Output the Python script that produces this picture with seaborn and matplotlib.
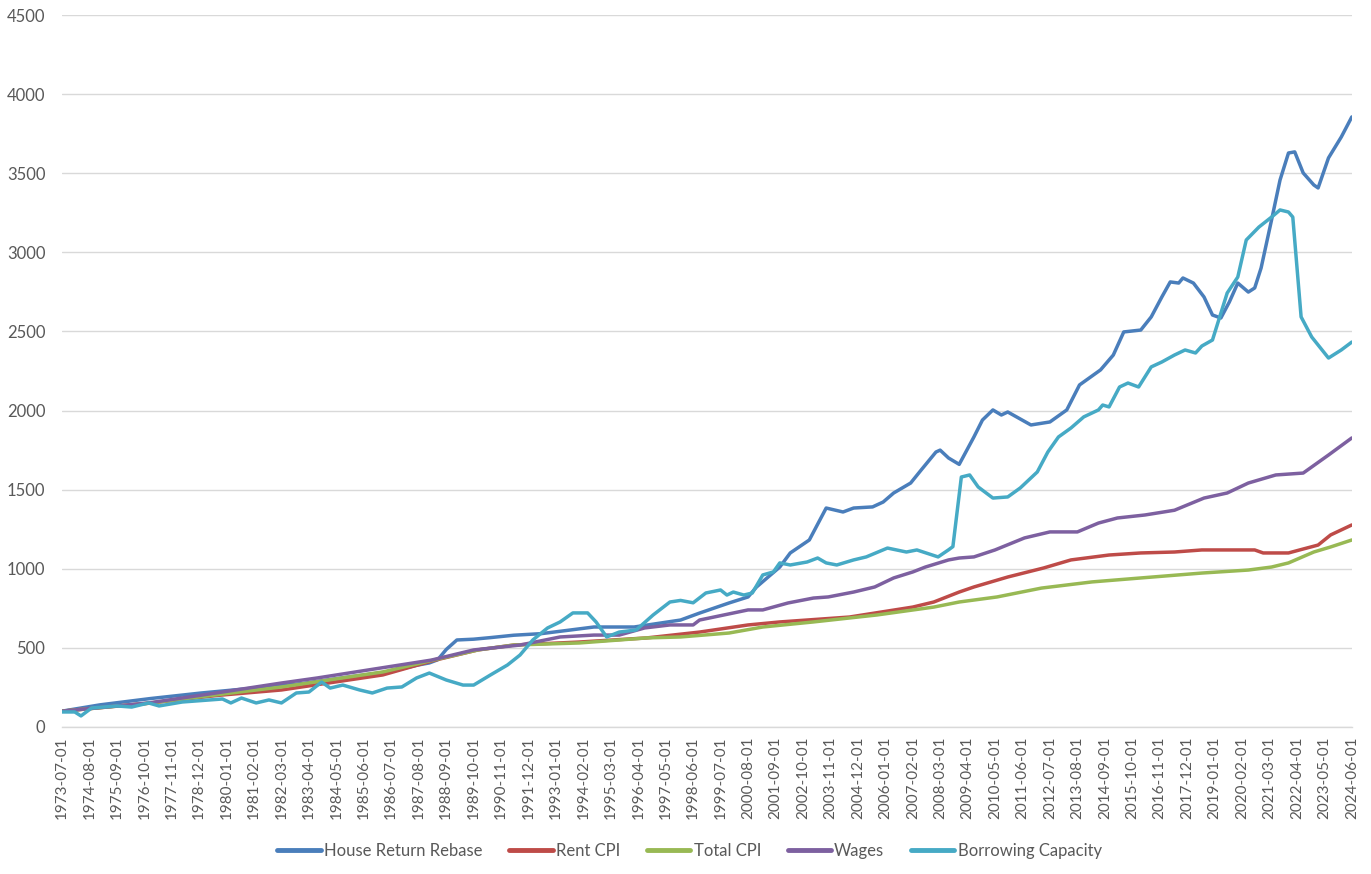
import pandas as pd
import numpy as np
import matplotlib
matplotlib.use("Agg")
import matplotlib.pyplot as plt
import seaborn as sns

# --------------------------------------------
# Data
# --------------------------------------------
house_dates = ["1973-07", "1975-01", "1977-01", "1979-01", "1981-01", "1983-01", "1985-01",
               "1986-06", "1987-07", "1988-01", "1988-05", "1988-09", "1989-02", "1989-10",
               "1990-06", "1991-05", "1992-06", "1993-06", "1994-07", "1996-02", "1997-12",
               "1998-09", "1999-11", "2000-08", "2000-12", "2001-11", "2002-04", "2003-01",
               "2003-09", "2004-05", "2004-10", "2005-07", "2005-12", "2006-05", "2007-01",
               "2007-06", "2008-01", "2008-03", "2008-07", "2008-12", "2009-07", "2009-11",
               "2010-04", "2010-08", "2010-11", "2011-10", "2012-07", "2013-03", "2013-09",
               "2014-07", "2015-01", "2015-06", "2016-02", "2016-07", "2016-12", "2017-04",
               "2017-08", "2017-10", "2018-03", "2018-08", "2018-12", "2019-04", "2019-08",
               "2019-12", "2020-05", "2020-08", "2020-11", "2021-04", "2021-08", "2021-12",
               "2022-03", "2022-07", "2022-12", "2023-02", "2023-07", "2024-01", "2024-06"]
house_values = [100, 140, 180, 215, 245, 275, 320,
                350, 390, 405, 425, 490, 550, 555,
                565, 580, 590, 610, 632, 632, 676,
                720, 784, 822, 885, 1011, 1100, 1182,
                1384, 1359, 1384, 1391, 1422, 1479, 1542,
                1624, 1738, 1750, 1700, 1660, 1833, 1940,
                2004, 1972, 1991, 1909, 1928, 2004, 2162,
                2257, 2351, 2497, 2509, 2592, 2718, 2813,
                2806, 2838, 2806, 2718, 2604, 2585, 2686,
                2806, 2749, 2775, 2901, 3205, 3457, 3628,
                3635, 3502, 3426, 3407, 3597, 3729, 3856]

rent_dates = ["1973-07", "1976-12", "1979-09", "1982-03", "1986-03", "1988-03", "1989-12",
              "1991-05", "1993-12", "1996-08", "1998-09", "2000-08", "2001-11", "2004-08",
              "2007-02", "2007-12", "2008-12", "2009-07", "2010-11", "2012-04", "2013-05",
              "2014-11", "2016-02", "2017-06", "2018-07", "2020-08", "2020-12", "2021-12",
              "2022-07", "2023-02", "2023-08", "2024-06"]
rent_values = [100, 150, 200, 234, 329, 420, 487,
               518, 537, 563, 600, 645, 664, 695,
               758, 790, 853, 885, 948, 1005, 1056,
               1087, 1100, 1106, 1119, 1119, 1100, 1100,
               1125, 1150, 1214, 1277]

cpi_dates = ["1973-07", "1976-12", "1979-09", "1982-03", "1986-03", "1988-03", "1989-12",
             "1991-05", "1993-12", "1996-08", "1997-12", "1999-11", "2001-03", "2003-03",
             "2005-09", "2007-12", "2008-12", "2010-06", "2012-03", "2014-03", "2016-02",
             "2018-07", "2020-05", "2021-04", "2021-12", "2022-12", "2023-08", "2024-06"]
cpi_values = [100, 150, 205, 253, 348, 423, 487,
              518, 531, 563, 569, 594, 632, 664,
              708, 758, 790, 822, 878, 917, 942,
              973, 992, 1011, 1037, 1106, 1138, 1182]

wages_dates = ["1973-07", "1976-12", "1979-08", "1982-03", "1983-08", "1986-02", "1988-02",
               "1989-10", "1991-08", "1993-03", "1994-07", "1995-07", "1996-07", "1997-07",
               "1998-06", "1998-09", "2000-08", "2001-03", "2002-03", "2003-03", "2003-10",
               "2004-10", "2005-08", "2006-05", "2007-02", "2007-08", "2008-07", "2008-12",
               "2009-07", "2010-05", "2011-07", "2012-07", "2013-08", "2014-06", "2015-03",
               "2016-04", "2017-06", "2018-08", "2019-07", "2020-05", "2021-06", "2022-07",
               "2023-07", "2024-06"]
wages_values = [100, 152, 215, 278, 310, 373, 423,
                487, 518, 569, 581, 581, 626, 645,
                645, 676, 740, 740, 784, 815, 822,
                853, 885, 942, 980, 1011, 1056, 1068,
                1075, 1119, 1195, 1233, 1233, 1289, 1321,
                1340, 1370, 1447, 1479, 1542, 1593, 1605,
                1719, 1827]

borrow_dates = ["1973-07", "1974-01", "1974-04", "1974-09", "1975-09", "1976-04", "1976-12",
                "1977-05", "1978-04", "1979-05", "1979-11", "1980-03", "1980-08", "1981-03",
                "1981-09", "1982-03", "1982-10", "1983-04", "1983-10", "1984-02", "1984-08",
                "1985-04", "1985-10", "1986-05", "1986-12", "1987-07", "1988-01", "1988-09",
                "1989-05", "1989-10", "1990-06", "1991-02", "1991-08", "1992-02", "1992-09",
                "1993-03", "1993-09", "1994-04", "1994-08", "1995-01", "1995-07", "1996-03",
                "1996-11", "1997-07", "1997-12", "1998-06", "1998-12", "1999-07", "1999-10",
                "2000-01", "2000-06", "2000-10", "2001-03", "2001-08", "2001-11", "2002-04",
                "2002-12", "2003-05", "2003-09", "2004-02", "2004-10", "2005-04", "2006-02",
                "2006-11", "2007-04", "2008-02", "2008-07", "2008-09", "2009-01", "2009-05",
                "2009-09", "2010-04", "2010-11", "2011-05", "2012-01", "2012-06", "2012-11",
                "2013-05", "2013-11", "2014-06", "2014-08", "2014-11", "2015-04", "2015-08",
                "2016-01", "2016-07", "2016-12", "2017-06", "2017-11", "2018-04", "2018-07",
                "2018-12", "2019-07", "2019-12", "2020-04", "2020-10", "2021-04", "2021-08",
                "2021-12", "2022-02", "2022-06", "2022-11", "2023-07", "2024-01", "2024-06"]
borrow_values = [95, 95, 70, 120, 133, 126, 152,
                 133, 158, 171, 177, 152, 183, 152,
                 171, 152, 215, 221, 284, 246, 265,
                 234, 215, 246, 253, 310, 341, 297,
                 265, 265, 329, 392, 455, 550, 626,
                 664, 721, 721, 664, 569, 600, 613,
                 708, 790, 800, 785, 847, 866, 834,
                 853, 834, 847, 961, 980, 1037, 1024,
                 1043, 1068, 1037, 1024, 1056, 1075, 1131,
                 1106, 1119, 1075, 1120, 1140, 1580, 1593,
                 1517, 1447, 1454, 1511, 1612, 1738, 1833,
                 1890, 1960, 2004, 2035, 2023, 2149, 2174,
                 2149, 2276, 2307, 2351, 2383, 2364, 2408,
                 2446, 2743, 2844, 3078, 3160, 3223, 3268,
                 3255, 3223, 2592, 2465, 2332, 2383, 2433]

series_names = ["House Return Rebase", "Rent CPI", "Total CPI", "Wages", "Borrowing Capacity"]
series_colors = ["#4A7EBB", "#BE4B48", "#98B954", "#7D60A0", "#46AAC5"]

# --------------------------------------------
# Long-form table for seaborn
# --------------------------------------------
frames = []
for name, dates, values in zip(series_names,
                               [house_dates, rent_dates, cpi_dates, wages_dates, borrow_dates],
                               [house_values, rent_values, cpi_values, wages_values, borrow_values]):
    frames.append(pd.DataFrame({"date": pd.to_datetime(dates), "value": values, "series": name}))
df = pd.concat(frames, ignore_index=True)

# tick dates every 13 months, as in the original
tick_dates = pd.date_range("1973-07-01", "2024-06-01", freq="13MS")

# --------------------------------------------
# Plot
# --------------------------------------------
sns.set_style("white")
plt.rcParams["font.family"] = ["Lato", "DejaVu Sans"]

fig = plt.figure(figsize=(13.71, 8.74), dpi=100)
ax = fig.add_axes([0.0452, 0.1682, 0.9408, 0.8146])

sns.lineplot(data=df, x="date", y="value", hue="series", hue_order=series_names,
             palette=series_colors, estimator=None, sort=True, linewidth=2.5,
             ax=ax, legend=False)

ax.set_xlim(pd.Timestamp("1973-07-01"), pd.Timestamp("2024-06-01"))
ax.set_ylim(0, 4500)
ax.set_yticks(np.arange(0, 4501, 500))
ax.set_xticks(tick_dates)
ax.set_xticklabels([d.strftime("%Y-%m-%d") for d in tick_dates], rotation=90)

ax.grid(axis="y", color="#D9D9D9", linewidth=1)
ax.grid(axis="x", visible=False)
ax.set_axisbelow(True)
for side in ["top", "right", "left"]:
    ax.spines[side].set_visible(False)
ax.spines["bottom"].set_color("#D9D9D9")
ax.spines["bottom"].set_linewidth(1)

ax.tick_params(axis="x", colors="#D9D9D9", length=4, width=1, pad=3, labelcolor="#595959", labelsize=11)
ax.tick_params(axis="y", length=0, pad=12, labelcolor="#595959", labelsize=12)
ax.set_xlabel("")
ax.set_ylabel("")

handles = [plt.Line2D([0], [0], color=c, linewidth=3.5) for c in series_colors]
fig.legend(handles, series_names, loc="center", bbox_to_anchor=(0.503, 0.026), ncol=5,
           frameon=False, fontsize=12, handlelength=2.6, handletextpad=0.2,
           columnspacing=1.6, labelcolor="#595959")

fig.savefig("out.png", dpi=100)
